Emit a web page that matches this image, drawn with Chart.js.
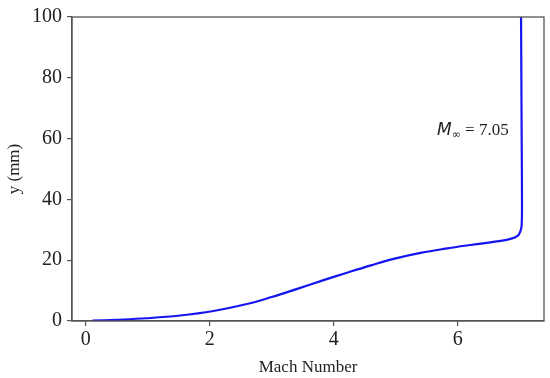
<!DOCTYPE html>
<html>
<head>
<meta charset="utf-8">
<script src="https://cdn.jsdelivr.net/npm/chart.js@4"></script>
<style>
  html, body { margin: 0; padding: 0; background: #fff; }
  #wrap { width: 550px; height: 378px; }
</style>
</head>
<body>
<div id="wrap"><canvas id="chart" width="550" height="378"></canvas></div>
<script>
// Mach number profile through the boundary layer
const machValues = [0.11, 0.5, 0.98, 1.52, 2.06, 2.6, 3.0, 3.4, 3.8, 4.2, 4.6, 5.0, 5.4, 5.8, 6.2, 6.6, 6.85, 6.97, 7.01, 7.03, 7.035, 7.03, 7.025, 7.02];
const heightValues = [0.1, 0.4, 0.9, 1.8, 3.3, 5.6, 7.9, 10.5, 13.2, 15.8, 18.3, 20.6, 22.4, 23.8, 25.0, 26.1, 27.0, 28.1, 29.6, 31.5, 40, 60, 80, 100];
const xTicks = [0, 2, 4, 6];
const yTicks = [0, 20, 40, 60, 80, 100];
const labelPos = { x: 6.82, y: 63 };
const labelValue = "7.05";

const serif = "'Liberation Serif', 'Times New Roman', serif";
const axisColor = "#555555";

const points = machValues.map((m, i) => ({ x: m, y: heightValues[i] }));

const framePlugin = {
  id: "frame",
  afterDraw(chart) {
    const { ctx, chartArea: a, scales } = chart;
    ctx.save();
    ctx.strokeStyle = axisColor;
    ctx.lineWidth = 1.3;
    ctx.strokeRect(a.left, a.top, a.right - a.left, a.bottom - a.top);

    // M_inf annotation
    const px = scales.x.getPixelForValue(labelPos.x);
    const py = scales.y.getPixelForValue(labelPos.y);
    ctx.fillStyle = "#222";
    ctx.textBaseline = "alphabetic";
    ctx.font = "17px " + serif;
    const rest = " = " + labelValue;
    const restW = ctx.measureText(rest).width;
    ctx.font = "italic 17px 'DejaVu Sans', sans-serif";
    const mW = ctx.measureText("M").width;
    ctx.font = "11px 'DejaVu Sans', sans-serif";
    const infW = ctx.measureText("\u221E").width;
    let x0 = px - restW - infW - mW;
    ctx.font = "italic 17px 'DejaVu Sans', sans-serif";
    ctx.fillText("M", x0, py + 6);
    ctx.font = "11px 'DejaVu Sans', sans-serif";
    ctx.fillText("\u221E", x0 + mW, py + 9);
    ctx.font = "17px " + serif;
    ctx.fillText(rest, x0 + mW + infW, py + 6);
    ctx.restore();
  }
};

const ctx = document.getElementById("chart").getContext("2d");

new Chart(ctx, {
  type: "scatter",
  data: {
    datasets: [{
      label: "Mach",
      data: points,
      showLine: true,
      borderColor: "#1515f0",
      borderWidth: 2.2,
      pointRadius: 0,
      tension: 0.4,
      fill: false
    }]
  },
  options: {
    responsive: false,
    animation: false,
    layout: { padding: { top: 14, right: 6, left: 0, bottom: 0 } },
    plugins: { legend: { display: false }, tooltip: { enabled: false } },
    scales: {
      x: {
        type: "linear",
        min: -0.22,
        max: 7.39,
        afterBuildTicks: (s) => { s.ticks = xTicks.map(v => ({ value: v })); },
        afterFit: (s) => { s.height = 57; },
        grid: { display: true, drawOnChartArea: false, drawTicks: true, tickLength: 5, color: axisColor, lineWidth: 1.2 },
        border: { display: true, color: axisColor, width: 1.3 },
        ticks: { color: "#222", font: { family: serif, size: 20 }, padding: 2 },
        title: { display: true, text: "Mach Number", color: "#222", font: { family: serif, size: 17 }, padding: { top: 0, bottom: 0 } }
      },
      y: {
        type: "linear",
        min: 0,
        max: 100,
        afterBuildTicks: (s) => { s.ticks = yTicks.map(v => ({ value: v })); },
        afterFit: (s) => { s.width = 72; },
        grid: { display: true, drawOnChartArea: false, drawTicks: true, tickLength: 5, color: axisColor, lineWidth: 1.2 },
        border: { display: true, color: axisColor, width: 1.3 },
        ticks: { color: "#222", font: { family: serif, size: 20 }, padding: 5 },
        title: { display: true, text: "y (mm)", color: "#222", font: { family: serif, size: 17 }, padding: { top: 4, bottom: 4 } }
      }
    }
  },
  plugins: [framePlugin]
});
</script>
</body>
</html>
